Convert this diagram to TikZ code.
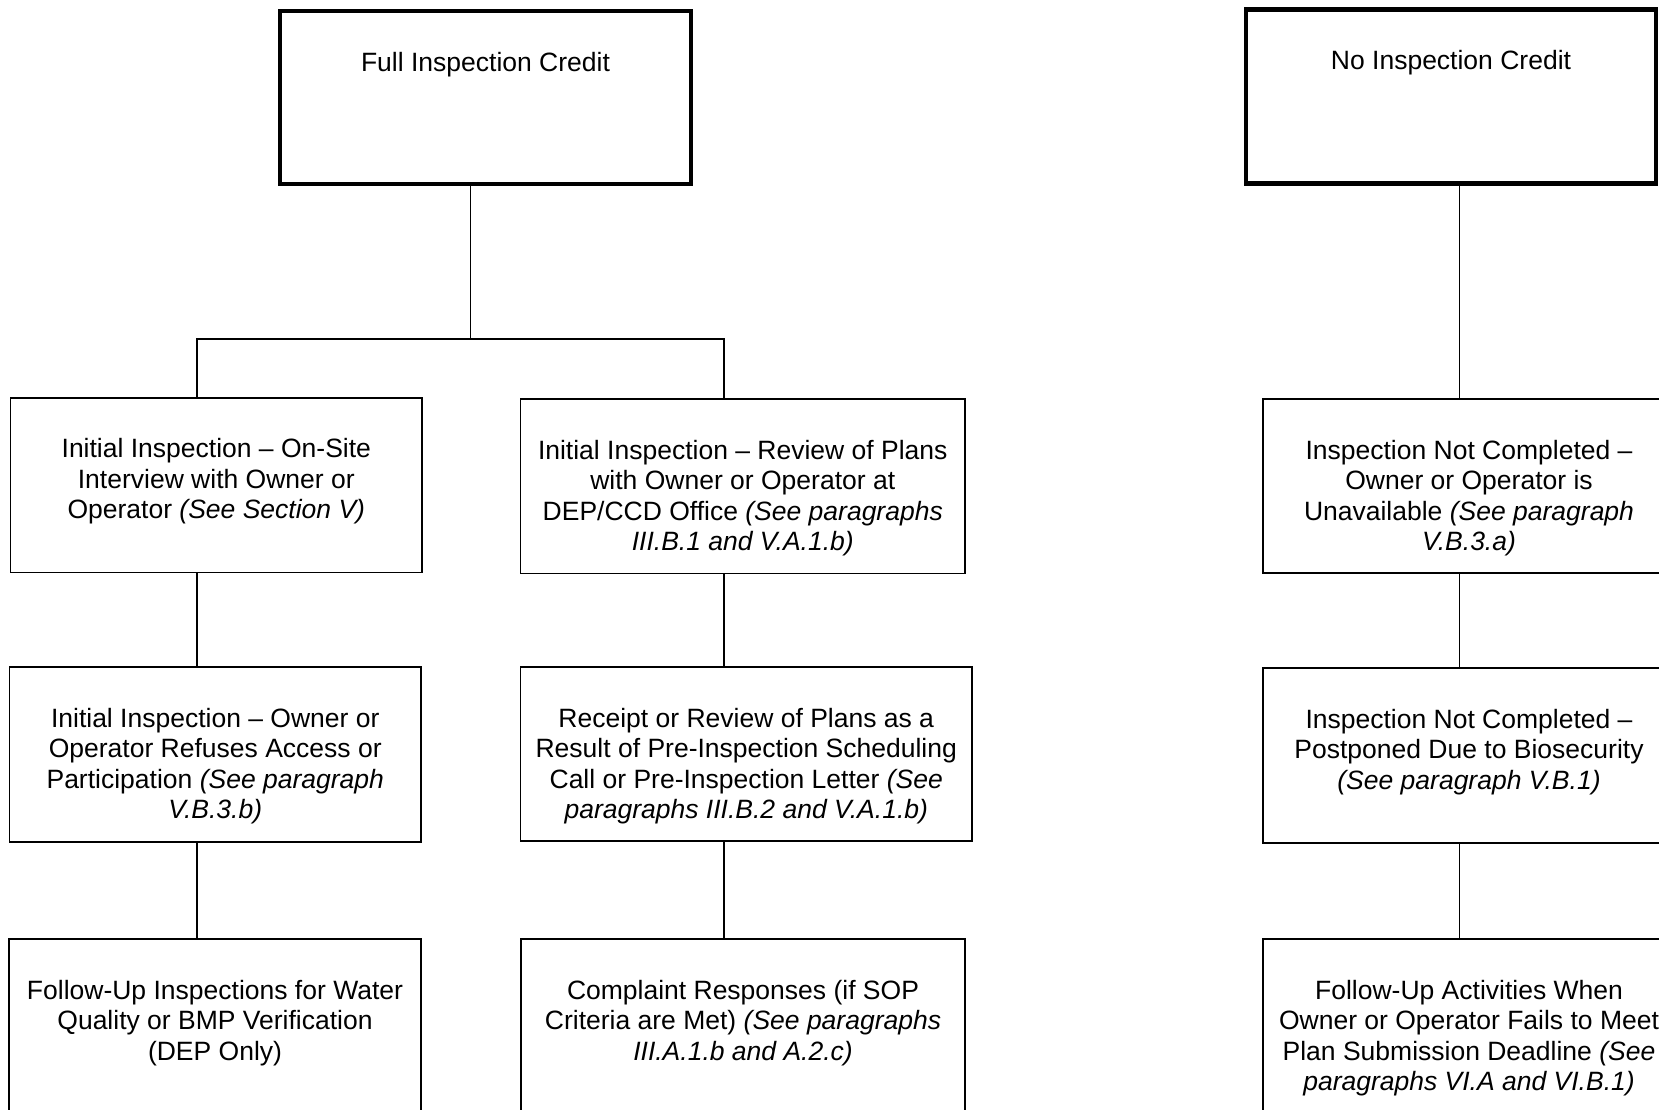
\documentclass[tikz,border=0pt]{standalone}
\usepackage{fontspec}
\setmainfont{Liberation Sans}
\usetikzlibrary{positioning}
\begin{document}
\begin{tikzpicture}[x=1pt,y=-1pt,
  box/.style={draw, rectangle, line width=1.8pt, inner sep=0pt, outer sep=0pt},
  topbox/.style={box, line width=4.5pt},
  txt/.style={align=center, inner sep=0pt, outer sep=0pt, anchor=north, font=\fontsize{26.5}{30.5}\selectfont},
  conn/.style={line width=1.8pt}]
\useasboundingbox (0,0) rectangle (1659,1109);
\clip (0,0) rectangle (1659,1109);
\fill[white] (0,0) rectangle (1659,1109);

% top boxes
\node[topbox, minimum width=411pt, minimum height=173pt] (A) at (485.5,97.5) {};
\node[txt] (At) at ([yshift=-38.65pt]A.north) {\strut Full Inspection Credit};
\node[topbox, minimum width=410pt, minimum height=174pt] (B) at (1451,96.5) {};
\node[txt] (Bt) at ([yshift=-38.65pt]B.north) {\strut No Inspection Credit};

% level 1
\node[box, minimum width=411.5pt, minimum height=174.5pt] (a1) at (216.3,485.2) {};
\node[txt] (a1t) at ([yshift=-38.65pt]a1.north) {\strut Initial Inspection – On-Site\\Interview with Owner or\\Operator \textit{(See Section V)}};
\node[box, minimum width=444.5pt, minimum height=174.5pt] (b1) at (742.75,486.25) {};
\node[txt] (b1t) at ([yshift=-38.65pt]b1.north) {\strut Initial Inspection – Review of Plans\\with Owner or Operator at\\DEP/CCD Office \textit{(See paragraphs}\\\textit{III.B.1 and V.A.1.b)}};
\node[box, minimum width=412pt, minimum height=174pt] (c1) at (1469,486) {};
\node[txt] (c1t) at ([yshift=-38.65pt]c1.north) {\strut Inspection Not Completed –\\Owner or Operator is\\Unavailable \textit{(See paragraph}\\\textit{V.B.3.a)}};

% level 2
\node[box, minimum width=411.5pt, minimum height=175pt] (a2) at (215.25,754.5) {};
\node[txt] (a2t) at ([yshift=-38.65pt]a2.north) {\strut Initial Inspection – Owner or\\Operator Refuses Access or\\Participation \textit{(See paragraph}\\\textit{V.B.3.b)}};
\node[box, minimum width=451.5pt, minimum height=174pt] (b2) at (746.25,754) {};
\node[txt] (b2t) at ([yshift=-38.65pt]b2.north) {\strut Receipt or Review of Plans as a\\Result of Pre-Inspection Scheduling\\Call or Pre-Inspection Letter \textit{(See}\\\textit{paragraphs III.B.2 and V.A.1.b)}};
\node[box, minimum width=412pt, minimum height=175pt] (c2) at (1469,755.5) {};
\node[txt] (c2t) at ([yshift=-38.65pt]c2.north) {\strut Inspection Not Completed –\\Postponed Due to Biosecurity\\\textit{(See paragraph V.B.1)}};

% level 3
\node[box, minimum width=412pt, minimum height=175pt] (a3) at (215,1026.5) {};
\node[txt] (a3t) at ([yshift=-38.65pt]a3.north) {\strut Follow-Up Inspections for Water\\Quality or BMP Verification\\(DEP Only)};
\node[box, minimum width=444pt, minimum height=175pt] (b3) at (743,1026.5) {};
\node[txt] (b3t) at ([yshift=-38.65pt]b3.north) {\strut Complaint Responses (if SOP\\Criteria are Met) \textit{(See paragraphs}\\\textit{III.A.1.b and A.2.c)}};
\node[box, minimum width=412pt, minimum height=175pt] (c3) at (1469,1026.5) {};
\node[txt] (c3t) at ([yshift=-38.65pt]c3.north) {\strut Follow-Up Activities When\\Owner or Operator Fails to Meet\\Plan Submission Deadline \textit{(See}\\\textit{paragraphs VI.A and VI.B.1)}};

% connectors
\coordinate (barM) at (470.5,339);
\coordinate (barL) at (197,339);
\coordinate (barR) at (724,339);
\coordinate (colR) at (1459.5,0);

\draw[conn] (barM |- A.south) -- (barM);
\draw[conn] (barL |- a1.north) -- (barL) -- (barR) -- (barR |- b1.north);
\draw[conn] (barL |- a1.south) -- (barL |- a2.north);
\draw[conn] (barL |- a2.south) -- (barL |- a3.north);
\draw[conn] (barR |- b1.south) -- (barR |- b2.north);
\draw[conn] (barR |- b2.south) -- (barR |- b3.north);
\draw[conn] (colR |- B.south) -- (colR |- c1.north);
\draw[conn] (colR |- c1.south) -- (colR |- c2.north);
\draw[conn] (colR |- c2.south) -- (colR |- c3.north);
\end{tikzpicture}
\end{document}
